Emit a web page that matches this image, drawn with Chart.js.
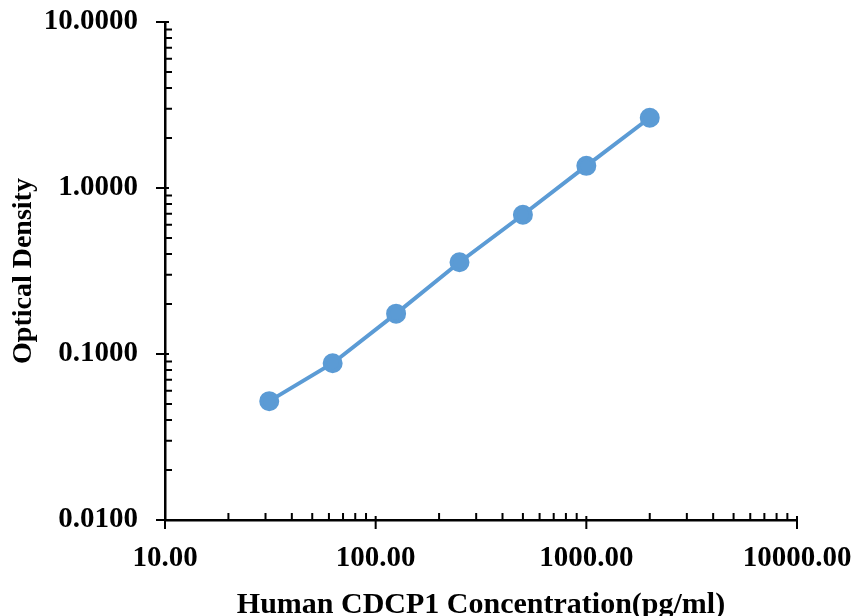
<!DOCTYPE html>
<html>
<head>
<meta charset="utf-8">
<script src="https://cdn.jsdelivr.net/npm/chart.js@4.4.1/dist/chart.umd.min.js"></script>
<style>
  html, body { margin: 0; padding: 0; background: #fff; }
  #wrap { width: 856px; height: 616px; }
</style>
</head>
<body>
<div id="wrap"><canvas id="myChart"></canvas></div>
<script>
const concentration = [31.25, 62.5, 125, 250, 500, 1000, 2000];
const opticalDensity = [0.052, 0.088, 0.175, 0.357, 0.69, 1.36, 2.65];
const xTickLabels = [10, 100, 1000, 10000];
const yTickLabels = [0.01, 0.1, 1, 10];

const labelFont = { family: "Liberation Serif", weight: "bold", size: 29 };

function isDecade(v) {
  const l = Math.log10(v);
  return Math.abs(l - Math.round(l)) < 1e-6;
}

// keep only 1..9 x 10^n ticks (chart.js also adds 15, 150 ...)
function keepWholeTicks(scale) {
  scale.ticks = scale.ticks.filter((t) => {
    const m = t.value / Math.pow(10, Math.floor(Math.log10(t.value) + 1e-9));
    return Math.abs(m - Math.round(m)) < 1e-6;
  });
}

// minor ticks point inward, decade ticks cross the axis
const tickMarks = {
  id: "tickMarks",
  afterDraw(chart) {
    const ctx = chart.ctx;
    const area = chart.chartArea;
    const x = chart.scales.x;
    const y = chart.scales.y;
    ctx.save();
    ctx.strokeStyle = "#000";
    ctx.lineWidth = 2;
    ctx.beginPath();
    x.ticks.forEach((t) => {
      const px = x.getPixelForValue(t.value);
      if (isDecade(t.value)) {
        ctx.moveTo(px, area.bottom - 4);
        ctx.lineTo(px, area.bottom + 9);
      } else {
        ctx.moveTo(px, area.bottom);
        ctx.lineTo(px, area.bottom - 7);
      }
    });
    y.ticks.forEach((t) => {
      const py = y.getPixelForValue(t.value);
      if (isDecade(t.value)) {
        ctx.moveTo(area.left - 9, py);
        ctx.lineTo(area.left + 4, py);
      } else {
        ctx.moveTo(area.left, py);
        ctx.lineTo(area.left + 7, py);
      }
    });
    ctx.stroke();
    ctx.restore();
  },
};

const dataOD = {
  datasets: [
    {
      label: "OD",
      data: concentration.map((c, i) => ({ x: c, y: opticalDensity[i] })),
      borderColor: "#5B9BD5",
      backgroundColor: "#5B9BD5",
      borderWidth: 4,
      pointRadius: 8,
      pointHoverRadius: 8,
      tension: 0,
    },
  ],
};

const configOD = {
  type: "line",
  data: dataOD,
  options: {
    responsive: true,
    maintainAspectRatio: false,
    animation: false,
    layout: { padding: 0 },
    plugins: { legend: { display: false }, tooltip: { enabled: false } },
    scales: {
      x: {
        type: "logarithmic",
        position: "bottom",
        min: 10,
        max: 10000,
        afterBuildTicks: keepWholeTicks,
        afterFit: (s) => {
          s.height = 96;
          s.paddingLeft = 0;
          s.paddingRight = 59;
        },
        grid: { display: false, drawTicks: false },
        border: { display: true, color: "#000", width: 2.5 },
        ticks: {
          autoSkip: false,
          maxRotation: 0,
          padding: 21,
          color: "#000",
          font: labelFont,
          callback: (v) => (xTickLabels.some((t) => Math.abs(t - v) < 1e-9) ? Number(v).toFixed(2) : ""),
        },
        title: {
          display: true,
          text: "Human CDCP1 Concentration(pg/ml)",
          color: "#000",
          font: { family: "Liberation Serif", weight: "bold", size: 30, lineHeight: 0.7 },
          padding: { top: 0, bottom: 0 },
        },
      },
      y: {
        type: "logarithmic",
        min: 0.01,
        max: 10,
        afterBuildTicks: keepWholeTicks,
        afterFit: (s) => {
          s.width = 165;
          s.paddingTop = 22;
          s.paddingBottom = 0;
        },
        grid: { display: false, drawTicks: false },
        border: { display: true, color: "#000", width: 2.5 },
        ticks: {
          autoSkip: false,
          padding: 27,
          color: "#000",
          font: labelFont,
          callback: (v) => (yTickLabels.some((t) => Math.abs(t - v) < 1e-9) ? Number(v).toFixed(4) : ""),
        },
        title: {
          display: true,
          text: "Optical Density",
          color: "#000",
          font: { family: "Liberation Serif", weight: "bold", size: 28 },
          padding: { top: 7, bottom: 0 },
        },
      },
    },
  },
  plugins: [tickMarks],
};

const myChartOD = new Chart(document.getElementById("myChart"), configOD);
</script>
</body>
</html>
